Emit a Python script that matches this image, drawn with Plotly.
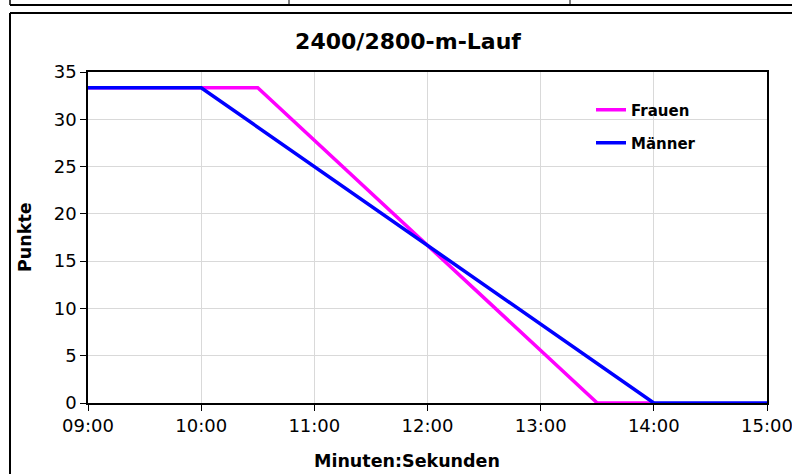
import plotly.graph_objects as go

# Data (minutes)
frauen_x = [9.0, 10.5, 13.5, 14.0]
frauen_y = [33.33, 33.33, 0, 0]
maenner_x = [9.0, 10.0, 14.0, 15.0]
maenner_y = [33.33, 33.33, 0, 0]
x_tickvals = [9, 10, 11, 12, 13, 14, 15]
x_ticktext = ["09:00", "10:00", "11:00", "12:00", "13:00", "14:00", "15:00"]
y_tickvals = [0, 5, 10, 15, 20, 25, 30, 35]

W, H = 792, 474
L, R, T, B = 88, 25, 72, 71
pw, ph = W - L - R, H - T - B

def px(x):
    return (x - L) / pw

def py(y):
    return (H - B - y) / ph

FONT = "DejaVu Sans"

fig = go.Figure()
fig.add_trace(go.Scatter(x=frauen_x, y=frauen_y, mode="lines", name="<b>Frauen</b>",
                         line=dict(color="#ff00ff", width=3.5), legend="legend"))
fig.add_trace(go.Scatter(x=maenner_x, y=maenner_y, mode="lines", name="<b>Männer</b>",
                         line=dict(color="#0000ff", width=3.5), legend="legend2"))

shapes = [
    # outer chart frame (left and top edges visible)
    dict(type="line", xref="paper", yref="paper", x0=px(10), x1=px(10), y0=py(13), y1=py(474),
         line=dict(color="black", width=2)),
    dict(type="line", xref="paper", yref="paper", x0=px(10), x1=px(792), y0=py(13), y1=py(13),
         line=dict(color="black", width=2)),
    # table strip at top
    dict(type="line", xref="paper", yref="paper", x0=px(10), x1=px(792), y0=py(5), y1=py(5),
         line=dict(color="black", width=2)),
    dict(type="line", xref="paper", yref="paper", x0=px(10), x1=px(10), y0=py(0), y1=py(5),
         line=dict(color="black", width=1.5)),
    dict(type="line", xref="paper", yref="paper", x0=px(289), x1=px(289), y0=py(0), y1=py(5),
         line=dict(color="black", width=1)),
    dict(type="line", xref="paper", yref="paper", x0=px(570), x1=px(570), y0=py(0), y1=py(5),
         line=dict(color="black", width=1)),
    # white legend background area
    dict(type="rect", xref="paper", yref="paper", x0=px(563), x1=px(740), y0=py(93), y1=py(158),
         fillcolor="white", line=dict(width=0), layer="between"),
]

annotations = [
    dict(text="<b>Minuten:Sekunden</b>", xref="paper", yref="paper", x=px(407), y=py(461),
         xanchor="center", yanchor="middle", showarrow=False, font=dict(size=17.5, family=FONT)),
    dict(text="<b>Punkte</b>", xref="paper", yref="paper", x=px(25), y=py(237),
         xanchor="center", yanchor="middle", showarrow=False, textangle=-90,
         font=dict(size=17.5, family=FONT)),
]

legend_common = dict(xanchor="left", yanchor="middle", bgcolor="rgba(0,0,0,0)", borderwidth=0,
                     font=dict(size=15, family=FONT), itemwidth=30)

fig.update_layout(
    width=W, height=H,
    margin=dict(l=L, r=R, t=T, b=B, autoexpand=False),
    paper_bgcolor="white", plot_bgcolor="white",
    font=dict(family=FONT, size=18, color="black"),
    title=dict(text="<b>2400/2800-m-Lauf</b>", xref="paper", x=px(408), xanchor="center",
               yref="container", y=1 - 41 / H, yanchor="middle", font=dict(size=22, family=FONT)),
    xaxis=dict(range=[9, 15], tickvals=x_tickvals, ticktext=x_ticktext, automargin=False,
               ticklabeloverflow="allow",
               showgrid=True, gridcolor="#d9d9d9", gridwidth=1,
               showline=True, linecolor="black", linewidth=1.5, mirror=True,
               ticks="outside", ticklen=6, tickcolor="black", zeroline=False),
    yaxis=dict(range=[0, 35], tickvals=y_tickvals, automargin=False,
               showgrid=True, gridcolor="#d9d9d9", gridwidth=1,
               showline=True, linecolor="black", linewidth=1.5, mirror=True,
               ticks="outside", ticklen=6, tickcolor="black", zeroline=False),
    legend=dict(x=px(591), y=py(110), **legend_common),
    legend2=dict(x=px(591), y=py(143), **legend_common),
    shapes=shapes,
    annotations=annotations,
    showlegend=True,
)

fig.write_html(
    "out.html",
    config={"displayModeBar": False},
    post_script="document.body.style.margin='0';document.body.style.overflow='hidden';"
                "document.documentElement.style.overflow='hidden';",
)
